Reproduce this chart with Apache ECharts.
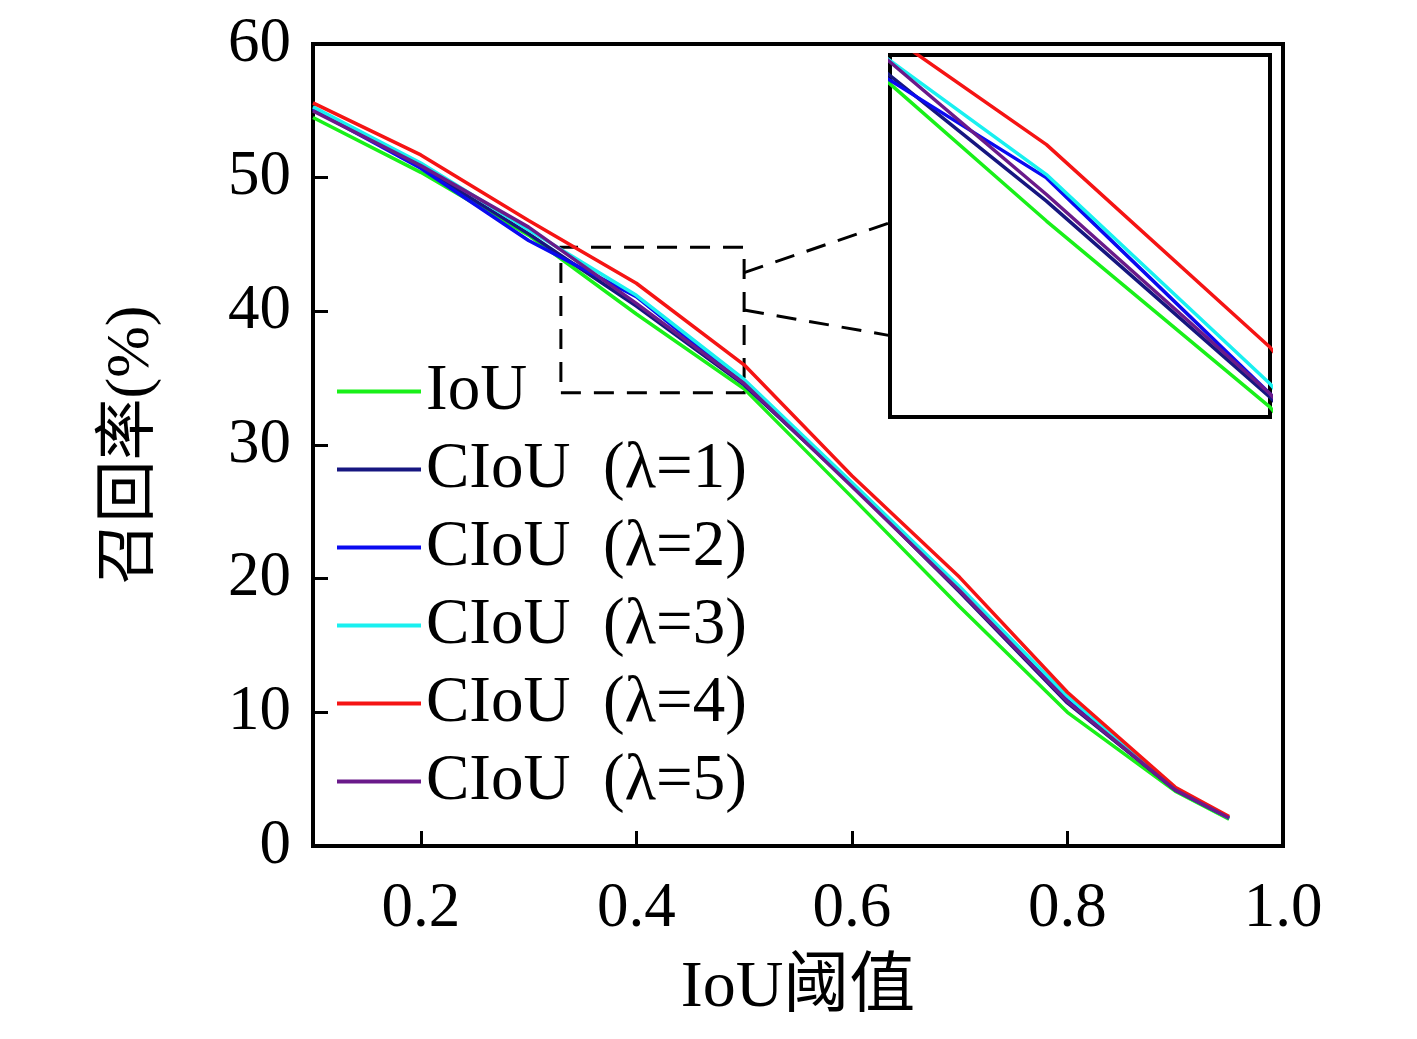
<!DOCTYPE html>
<html>
<head>
<meta charset="utf-8">
<title>IoU threshold vs recall</title>
<script src="https://cdn.jsdelivr.net/npm/echarts@6/dist/echarts.min.js"></script>
<style>
  html, body { margin: 0; padding: 0; background: #fff; }
  #chart { width: 1417px; height: 1039px; }
</style>
</head>
<body>
<div id="chart"></div>
<script>
// data
const iouThresholds = [0.1, 0.2, 0.3, 0.4, 0.5, 0.6, 0.7, 0.8, 0.9, 0.95];
const recallIoU = [54.5, 50.4, 45.7, 39.8, 34.2, 26.1, 17.9, 10.0, 4.1, 2.0];
const recallL1 = [55.2, 50.8, 45.8, 40.4, 34.5, 27.0, 19.0, 10.7, 4.2, 2.1];
const recallL2 = [55.1, 50.7, 45.3, 41.1, 34.6, 27.0, 19.2, 10.9, 4.2, 2.1];
const recallL3 = [55.3, 51.1, 46.1, 41.2, 34.9, 27.2, 19.4, 11.2, 4.3, 2.1];
const recallL4 = [55.6, 51.7, 46.8, 42.1, 36.0, 27.7, 20.1, 11.5, 4.4, 2.2];
const recallL5 = [55.0, 50.9, 46.3, 40.6, 34.6, 26.9, 19.1, 10.8, 4.2, 2.1];

const seriesNames = ['IoU', 'CIoU  (λ=1)', 'CIoU  (λ=2)', 'CIoU  (λ=3)', 'CIoU  (λ=4)', 'CIoU  (λ=5)'];
const seriesValues = [recallIoU, recallL1, recallL2, recallL3, recallL4, recallL5];
const seriesColors = ['#19f019', '#161680', '#0a0af0', '#19f0f0', '#f51414', '#6a1a8a'];

// zoomed window shown in the inset
const zoomX = [0.33, 0.5];
const zoomY = [33.9, 44.8];

const serif = "'Liberation Serif', 'Noto Sans CJK SC', serif";

const chartDom = document.getElementById('chart');
const myChart = echarts.init(chartDom, null, { renderer: 'canvas' });

const pairs = (vals) => iouThresholds.map((x, i) => [x, vals[i]]);

const series = [];
seriesNames.forEach((name, i) => {
    // main plot
    series.push({
        name: name,
        type: 'line',
        xAxisIndex: 0,
        yAxisIndex: 0,
        data: pairs(seriesValues[i]),
        symbol: 'none',
        lineStyle: { color: seriesColors[i], width: 3.5 },
        itemStyle: { color: seriesColors[i] },
        z: 3,
        markArea: i === 0 ? {
            silent: true,
            itemStyle: {
                color: 'rgba(0,0,0,0)',
                borderColor: '#000',
                borderWidth: 3,
                borderType: [20, 13]
            },
            data: [[{ coord: [zoomX[0], zoomY[0]] }, { coord: [zoomX[1], zoomY[1]] }]]
        } : undefined
    });
    // inset
    series.push({
        name: name,
        type: 'line',
        xAxisIndex: 1,
        yAxisIndex: 1,
        data: pairs(seriesValues[i]),
        symbol: 'none',
        clip: true,
        lineStyle: { color: seriesColors[i], width: 3.5 },
        itemStyle: { color: seriesColors[i] },
        z: 5
    });
});

const option = {
    animation: false,
    backgroundColor: '#fff',
    legend: {
        data: seriesNames,
        orient: 'vertical',
        left: 332,
        top: 354,
        icon: 'rect',
        itemWidth: 84,
        itemHeight: 4,
        itemGap: 13,
        textStyle: { fontFamily: serif, fontSize: 65, lineHeight: 65, color: '#000' }
    },
    grid: [
        { left: 313, right: 134, top: 44, bottom: 193, show: true, borderColor: '#000', borderWidth: 4, backgroundColor: 'rgba(0,0,0,0)' },
        { left: 890, right: 147, top: 55, bottom: 622, show: true, borderColor: '#000', borderWidth: 4, backgroundColor: '#fff', z: 4 }
    ],
    xAxis: [
        {
            type: 'value',
            gridIndex: 0,
            min: 0.1,
            max: 1.0,
            splitNumber: 5,
            name: 'IoU阈值',
            nameLocation: 'middle',
            nameGap: 110,
            nameTextStyle: { fontFamily: serif, fontSize: 66, color: '#000' },
            axisLine: { show: true, lineStyle: { color: '#000', width: 4 } },
            axisTick: { show: true, inside: true, length: 15, lineStyle: { color: '#000', width: 3 } },
            axisLabel: {
                showMinLabel: false,
                margin: 32,
                fontFamily: serif,
                fontSize: 63,
                color: '#000',
                formatter: (v) => v.toFixed(1)
            },
            splitLine: { show: false }
        },
        {
            type: 'value',
            gridIndex: 1,
            min: zoomX[0],
            max: zoomX[1],
            axisLine: { show: false },
            axisTick: { show: false },
            axisLabel: { show: false },
            splitLine: { show: false }
        }
    ],
    yAxis: [
        {
            type: 'value',
            gridIndex: 0,
            min: 0,
            max: 60,
            interval: 10,
            name: '召回率(%)',
            nameLocation: 'middle',
            nameRotate: 90,
            nameGap: 150,
            nameTextStyle: { fontFamily: serif, fontSize: 62, color: '#000' },
            axisLine: { show: true, lineStyle: { color: '#000', width: 4 } },
            axisTick: { show: true, inside: true, length: 15, lineStyle: { color: '#000', width: 3 } },
            axisLabel: { margin: 22, fontFamily: serif, fontSize: 63, color: '#000' },
            splitLine: { show: false }
        },
        {
            type: 'value',
            gridIndex: 1,
            min: zoomY[0],
            max: zoomY[1],
            axisLine: { show: false },
            axisTick: { show: false },
            axisLabel: { show: false },
            splitLine: { show: false }
        }
    ],
    series: series
};

myChart.setOption(option);

// dashed connectors from the zoom window to the inset
const connectors = [
    { from: [zoomX[1], 42.9], to: [zoomX[0], 39.75] },
    { from: [zoomX[1], 40.1], to: [zoomX[0], 36.35] }
];
const graphics = connectors.map((c) => {
    const p1 = myChart.convertToPixel({ xAxisIndex: 0, yAxisIndex: 0 }, c.from);
    const p2 = myChart.convertToPixel({ xAxisIndex: 1, yAxisIndex: 1 }, c.to);
    return {
        type: 'line',
        shape: { x1: p1[0], y1: p1[1], x2: p2[0], y2: p2[1] },
        style: { stroke: '#000', lineWidth: 3, lineDash: [20, 13] },
        z: 10
    };
});
myChart.setOption({ graphic: graphics });

window.addEventListener('resize', myChart.resize);
</script>
</body>
</html>
